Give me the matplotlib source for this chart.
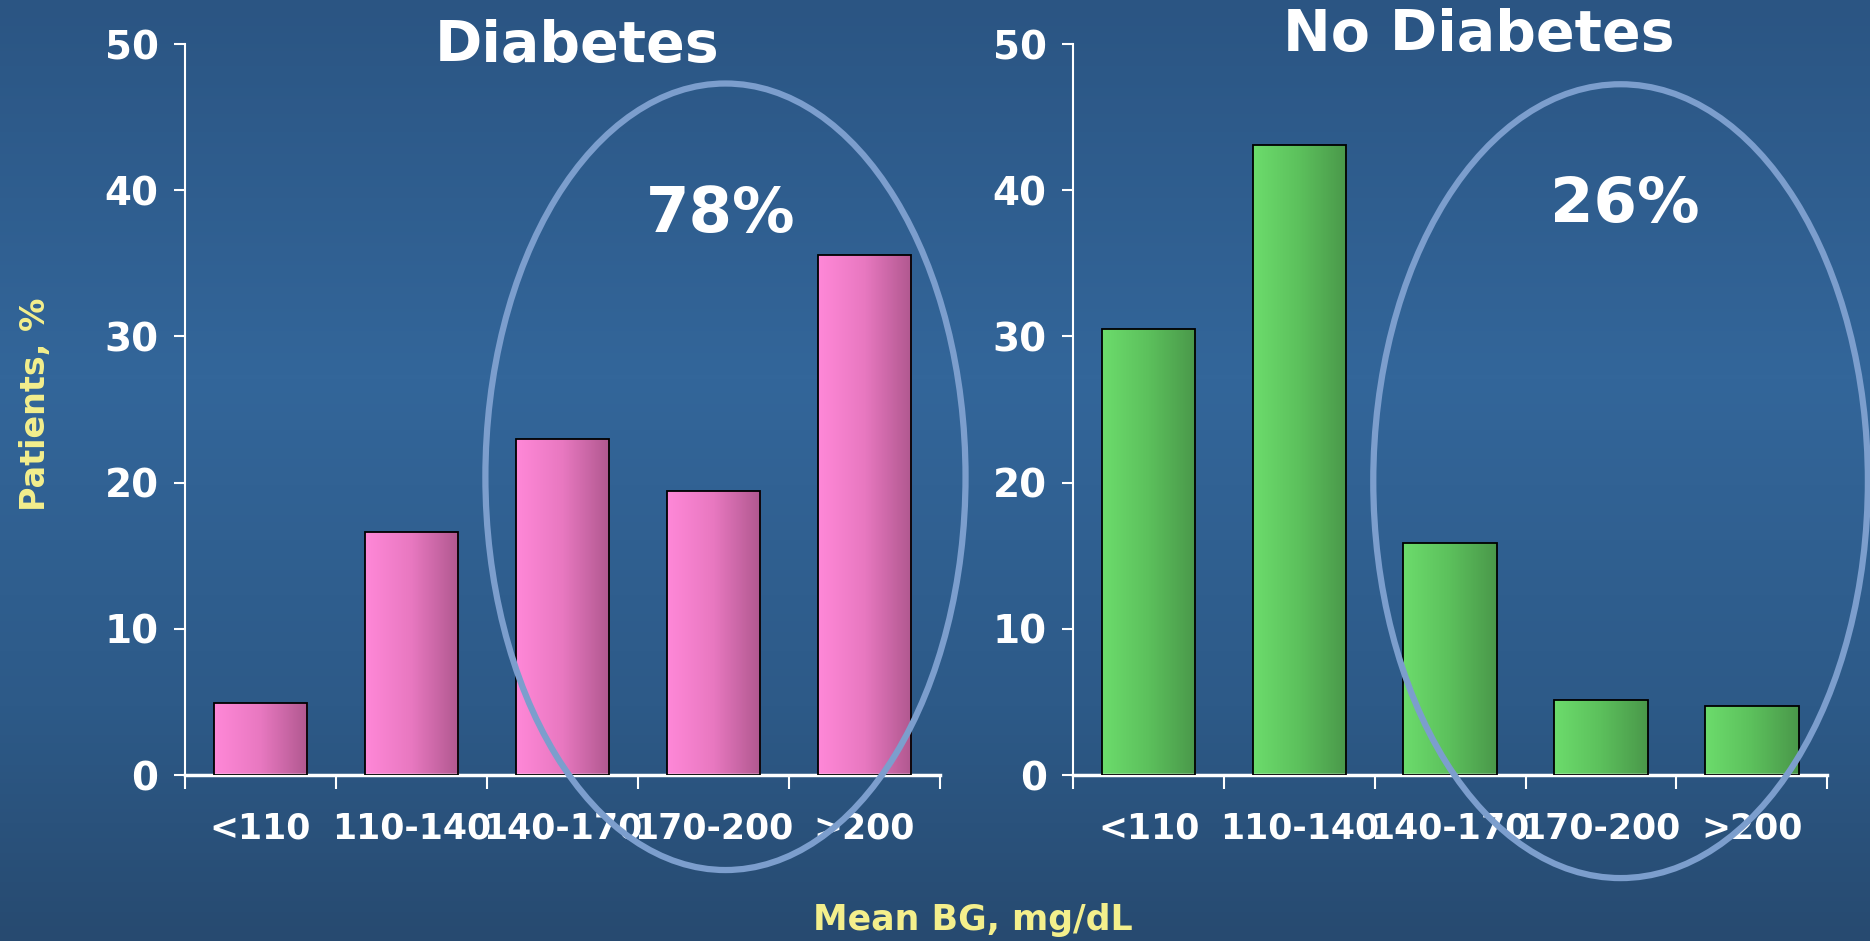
import numpy as np
import matplotlib
matplotlib.use("Agg")
import matplotlib.pyplot as plt
from matplotlib.colors import LinearSegmentedColormap
from matplotlib.patches import Ellipse

categories = ["<110", "110-140", "140-170", "170-200", ">200"]
diabetes = [4.9, 16.6, 23.0, 19.4, 35.6]
no_diabetes = [30.5, 43.1, 15.9, 5.1, 4.7]
titles = ["Diabetes", "No Diabetes"]
highlight = ["78%", "26%"]

plt.rcParams['font.family'] = ['DejaVu Sans']
plt.rcParams['font.weight'] = 'bold'

fig = plt.figure(figsize=(18.7, 9.41), dpi=100)

# background gradient
bg = fig.add_axes([0, 0, 1, 1], zorder=-10)
bg_cmap = LinearSegmentedColormap.from_list(
    "bg", [(0.0, "#2b5583"), (0.40, "#33669a"), (0.75, "#2d5a88"), (1.0, "#274a70")])
bg.imshow(np.linspace(0, 1, 256).reshape(-1, 1), aspect="auto", cmap=bg_cmap,
          extent=[0, 1, 0, 1], origin="upper")
bg.set_axis_off()

pink = LinearSegmentedColormap.from_list("pink", ["#ff88d8", "#e878c0", "#b0588f"])
green = LinearSegmentedColormap.from_list("green", ["#6cdc6c", "#5cc05c", "#4a984a"])


def gradient_bars(ax, values, cmap):
    bars = ax.bar(range(len(values)), values, width=0.62, facecolor="none",
                  edgecolor="black", linewidth=1.3, zorder=3)
    for b in bars:
        x0, y0 = b.get_x(), b.get_y()
        w, h = b.get_width(), b.get_height()
        im = ax.imshow(np.linspace(0, 1, 128).reshape(1, -1), cmap=cmap, aspect="auto",
                       extent=[x0, x0 + w, y0, y0 + h], zorder=2)
        im.set_clip_path(b)
    return bars


axes_pos = [[0.0989, 0.1764, 0.4037, 0.7768], [0.5739, 0.1764, 0.4032, 0.7768]]
data = [diabetes, no_diabetes]
cmaps = [pink, green]
title_pos = [(2.10, 49.8), (2.19, 50.6)]
pct_pos = [(3.05, 38.3), (3.16, 39.0)]
ell = [(3.08, 20.4, 3.18, 53.8), (3.13, 20.1, 3.28, 54.3)]

for i in range(2):
    ax = fig.add_axes(axes_pos[i])
    ax.set_facecolor("none")
    gradient_bars(ax, data[i], cmaps[i])
    ax.set_xlim(-0.5, 4.5)
    ax.set_ylim(0, 50)
    for s in ["top", "right"]:
        ax.spines[s].set_visible(False)
    ax.spines["left"].set_color("white")
    ax.spines["left"].set_linewidth(1.5)
    ax.spines["bottom"].set_color("white")
    ax.spines["bottom"].set_linewidth(2.5)
    ax.set_yticks([0, 10, 20, 30, 40, 50])
    ax.tick_params(axis="y", colors="white", labelsize=28, length=8, width=1.5, pad=11)
    ax.set_xticks(range(len(categories)))
    ax.set_xticklabels(categories)
    ax.tick_params(axis="x", which="major", length=0, labelsize=25, labelcolor="white", pad=26)
    ax.set_xticks(np.arange(-0.5, 5, 1), minor=True)
    ax.tick_params(axis="x", which="minor", length=10, width=1.5, color="white")
    for lab in ax.get_xticklabels() + ax.get_yticklabels():
        lab.set_fontweight("bold")

    ax.text(*title_pos[i], titles[i], color="white", fontsize=41, fontweight="bold",
            ha="center", va="center", clip_on=False)
    ax.text(*pct_pos[i], highlight[i], color="white", fontsize=45, fontweight="bold",
            ha="center", va="center", zorder=6)
    cx, cy, w, h = ell[i]
    ax.add_patch(Ellipse((cx, cy), w, h, fill=False, edgecolor="#7c9ecd",
                         linewidth=4.5, zorder=5, clip_on=False))

fig.text(0.019, 0.57, "Patients, %", rotation=90, color="#f4ef8c", fontsize=24,
         fontweight="bold", ha="center", va="center")
fig.text(0.52, 0.022, "Mean BG, mg/dL", color="#f4ef8c", fontsize=25,
         fontweight="bold", ha="center", va="center")

fig.savefig("out.png", dpi=100)
